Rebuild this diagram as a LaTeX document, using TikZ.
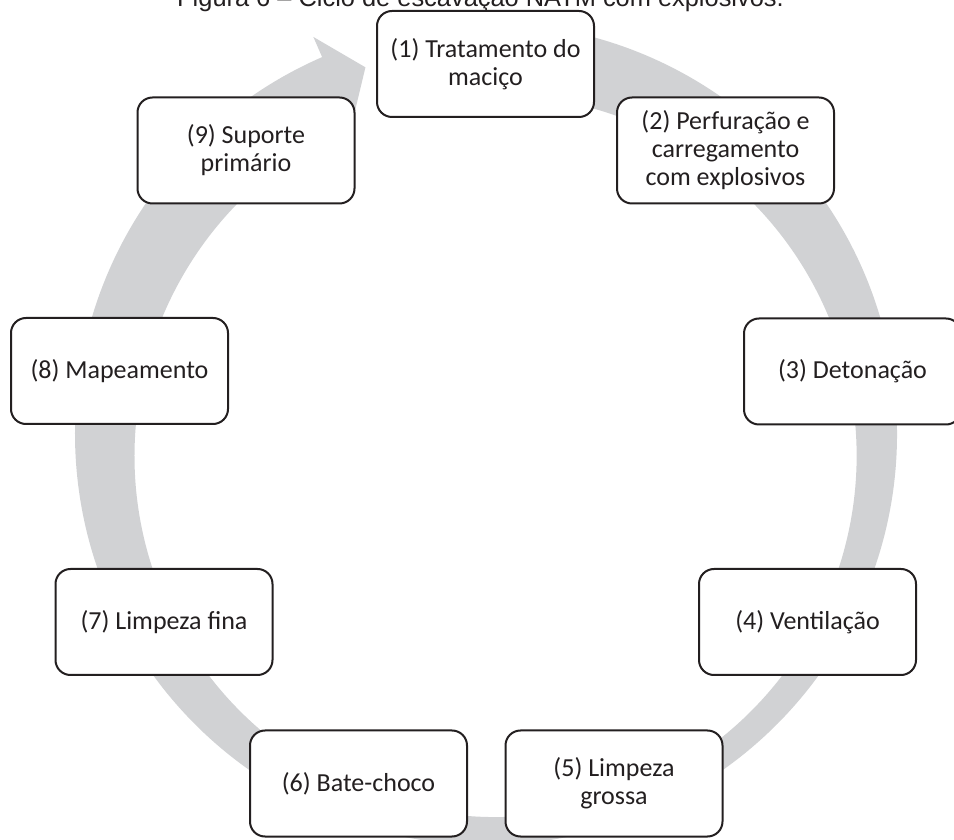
\documentclass[tikz,border=0pt]{standalone}
\usepackage{fontspec}
\setmainfont{Carlito}
\newfontfamily\titlefont{Liberation Sans}
\definecolor{ringgray}{HTML}{D1D2D4}
\definecolor{ink}{HTML}{231F20}
\begin{document}
\begin{tikzpicture}[x=1pt,y=1pt,
  stepbox/.style={draw=ink, line width=2pt, fill=white, rounded corners=15pt,
    minimum width=217pt, minimum height=106pt, align=center, inner sep=2pt,
    text=ink, font=\fontsize{26}{28}\selectfont},
  ]
\useasboundingbox (0,0) rectangle (954,839);
% ring arrow
\begin{scope}[shift={(486,405)}]
\fill[ringgray] (95:411) arc[start angle=95, end angle=-246.5, radius=411]
  -- (-246.5:433) -- (-251.8:386) -- (-246.5:337)
  arc[start angle=-246.5, end angle=95, radius=361] -- cycle;
\end{scope}
% title
\node[anchor=base, inner sep=0pt, text=ink, font=\titlefont\fontsize{25.4}{30}\selectfont] (title) at (480.5,832) {Figura 6 – Ciclo de escavação NATM com explosivos.};
% boxes
\node[stepbox] (s1) at (485.5,775) {(1) Tratamento do\\maciço};
\node[stepbox] (s2) at (725.5,688.5) {(2) Perfuração e\\carregamento\\com explosivos};
\node[stepbox] (s3) at (852.5,467.5) {(3) Detonação};
\node[stepbox] (s4) at (807.5,217) {(4) Ventilação};
\node[stepbox] (s5) at (614,55.5) {(5) Limpeza\\grossa};
\node[stepbox] (s6) at (358.5,55.5) {(6) Bate-choco};
\node[stepbox] (s7) at (164,217) {(7) Limpeza fina};
\node[stepbox] (s8) at (119.5,468) {(8) Mapeamento};
\node[stepbox] (s9) at (246,688.5) {(9) Suporte\\primário};
\end{tikzpicture}
\end{document}
